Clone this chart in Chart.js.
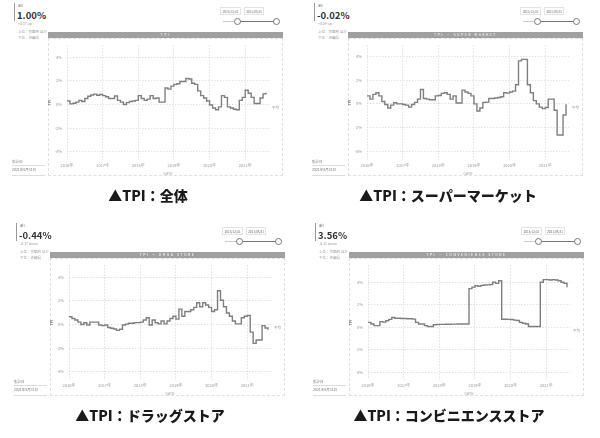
<!DOCTYPE html>
<html>
<head>
<meta charset="utf-8">
<script src="https://cdn.jsdelivr.net/npm/chart.js@4.4.1/dist/chart.umd.min.js"></script>
<style>
  body { margin: 0; width: 600px; height: 438px; background: #fff; position: relative; overflow: hidden;
         font-family: "Noto Sans CJK JP", "Noto Sans", sans-serif; }
  .panel { position: absolute; width: 300px; height: 215px; }
  .vbar { position: absolute; left: 14px; top: 3px; width: 1px; height: 18px; background: #9a9a9a; }
  .all { position: absolute; left: 18px; top: 2px; font-size: 4px; color: #666; }
  .big { position: absolute; left: 17px; top: 8px; font-size: 9.5px; font-weight: bold; color: #333; }
  .sub { position: absolute; left: 18px; top: 21px; font-size: 3.5px; color: #999; }
  .rank { position: absolute; left: 18px; top: 29px; font-size: 3.5px; color: #999; line-height: 5.5px; }
  .date { position: absolute; top: 7px; height: 8px; border: 0.5px solid #e4e4e4; font-size: 3px;
          color: #666; line-height: 8px; text-align: center; box-sizing: border-box; }
  .track { position: absolute; left: 223px; top: 21px; width: 14px; height: 1px; background: #ccc; }
  .range { position: absolute; left: 237px; top: 20.5px; width: 39px; height: 1.5px; background: #777; }
  .knob { position: absolute; top: 17.5px; width: 7px; height: 7px; border: 1px solid #777; border-radius: 50%;
          background: #fff; box-sizing: border-box; }
  .title { position: absolute; left: 48px; top: 32px; width: 235px; height: 6px; background: #a0a0a0; color: #fff;
           font-size: 3.5px; line-height: 6px; text-align: center; letter-spacing: 1.5px; }
  .frame { position: absolute; left: 48px; top: 38px; width: 235px; height: 138px; border: 1px dashed #e0e0e0;
           box-sizing: border-box; }
  canvas { position: absolute; left: 48px; top: 38px; }
  .foot { position: absolute; left: 12px; font-size: 3.5px; color: #777; }
  .rule { position: absolute; left: 12px; width: 33px; height: 1px; background: #ddd; }
  .caption { position: absolute; left: 0; width: 296px; top: 185px; text-align: center; font-size: 14px;
             font-weight: 900; color: #1a1a1a; }
</style>
</head>
<body>
<div id="root"></div>
<script>
// monthly TPI (%), 2016/01 .. 2021/08
const yearLabels = ['2016年', '2017年', '2018年', '2019年', '2020年', '2021年'];
const yTicks = [-4, -2, 0, 2, 4];

const tpiAll = [0.3, 0.05, 0.1, 0.2, 0.35, 0.25, 0.5, 0.7, 0.8, 0.88,
  0.78, 0.85, 0.75, 0.65, 0.5, 0.5, 0.72, 0.35, 0.2, 0.0,
  0.16, 0.25, 0.3, 0.35, 0.75, 0.5, 0.35, 0.45, 0.75, 0.5,
  0.55, 0.2, 0.2, 1.4, 1.3, 1.55, 1.7, 1.75, 1.95, 1.95,
  2.2, 2.15, 1.8, 1.7, 1.15, 0.75, 0.55, 0.3, -0.05, -0.3,
  -0.45, -0.2, 0.75, 0.6, -0.2, -0.3, -0.4, -0.45, 0.35, 0.6,
  1.2, 0.95, 0.6, 0.08, 0.08, 0.55, 0.9, 1.0];

const tpiSuper = [0.67, 0.4, 0.8, 0.93, 0.67, 0.2, -0.05, -0.35, -0.1, 0.1,
  0.0, 0.0, -0.05, -0.1, -0.27, -0.05, 0.13, 0.4, 1.2, 0.45,
  0.4, 0.35, 0.35, 0.67, 0.7, 0.88, 0.93, 0.8, 0.4, 0.67,
  0.08, 0.08, 1.15, 1.0, 0.88, 0.67, 0.0, -0.6, -0.35, 0.13,
  0.15, 0.45, 0.45, 0.5, 0.53, 0.6, 0.93, 0.9, 1.0, 1.07,
  1.6, 3.6, 3.73, 3.73, 1.6, 0.93, 0.27, 0.0, -0.27, -0.4,
  -0.3, 0.4, 0.4, -0.53, -2.6, -2.6, -0.93, -0.02];

const tpiDrug = [0.65, 0.5, 0.38, 0.2, 0.0, 0.15, -0.05, 0.2, 0.2, 0.2,
  -0.05, -0.1, -0.05, -0.25, -0.32, -0.38, -0.5, -0.4, -0.05, 0.03,
  0.1, 0.1, 0.16, 0.16, 0.2, 0.38, 0.57, -0.05, 0.38, 0.15,
  0.05, 0.3, 0.05, 0.3, 0.5, 0.7, 0.45, 1.3, 0.7, 1.1,
  1.1, 1.25, 1.45, 1.84, 1.5, 1.84, 1.65, 1.45, 1.1, 1.25,
  2.86, 2.05, 1.5, 0.97, 0.7, 0.3, 0.05, 0.05, 0.57, 0.7,
  0.76, -0.65, -1.6, -1.32, -1.32, -0.1, -0.3, -0.44];

const tpiConv = [0.43, 0.29, 0.14, 0.14, 0.5, 0.45, 0.57, 0.7, 0.86, 0.8,
  0.8, 0.77, 0.77, 0.75, 0.75, 0.72, 0.43, 0.29, 0.29, 0.14,
  0.06, 0.06, 0.22, 0.24, 0.25, 0.25, 0.26, 0.26, 0.27, 0.27,
  0.28, 0.28, 0.29, 0.29, 3.43, 3.57, 3.7, 3.65, 3.72, 3.75,
  3.77, 3.8, 4.0, 3.9, 4.14, 0.71, 0.71, 0.7, 0.68, 0.63,
  0.6, 0.43, 0.35, 0.29, 0.06, 0.06, 0.06, 0.06, 4.0, 4.23,
  4.23, 4.2, 4.23, 4.2, 4.14, 4.0, 3.9, 3.56];

const panels = [
  { left: 0, top: 0, title: 'TPI', value: '1.00%', change: '+0.37 up', caption: '▲TPI：全体', data: tpiAll, yMax: 5 },
  { left: 300, top: 0, title: 'TPI － SUPER MARKET', value: '-0.02%', change: '+0.09 up', caption: '▲TPI：スーパーマーケット', data: tpiSuper, yMax: 4.9 },
  { left: 2, top: 220, title: 'TPI － DRUG STORE', value: '-0.44%', change: '-0.37 down', caption: '▲TPI：ドラッグストア', data: tpiDrug, yMax: 5 },
  { left: 301, top: 220, title: 'TPI － CONVENIENCE STORE', value: '3.56%', change: '-0.11 down', caption: '▲TPI：コンビニエンスストア', data: tpiConv, yMax: 5.5 }
];

const tickFont = { family: 'Noto Sans CJK JP', size: 4 };

// small "平均" tag right of the plot
const avgTag = {
  id: 'avgTag',
  afterDraw(chart) {
    const { ctx, chartArea, scales } = chart;
    ctx.save();
    ctx.font = '3.5px "Noto Sans CJK JP"';
    ctx.fillStyle = '#999';
    ctx.textBaseline = 'middle';
    ctx.fillText('平均', chartArea.right + 3, scales.y.getPixelForValue(-0.3));
    ctx.restore();
  }
};

const root = document.getElementById('root');

panels.forEach((p, n) => {
  const el = document.createElement('div');
  el.className = 'panel';
  el.style.left = p.left + 'px';
  el.style.top = p.top + 'px';
  el.innerHTML = `
    <div class="vbar"></div>
    <div class="all">all</div>
    <div class="big">${p.value}</div>
    <div class="sub">${p.change}</div>
    <div class="rank">上位：京都府 ほか<br>下位：沖縄県</div>
    <div class="date" style="left:220px;width:21px">2015/12/31</div>
    <div class="date" style="left:244px;width:20px">2021/08/31</div>
    <div class="track"></div>
    <div class="range"></div>
    <div class="knob" style="left:233.5px"></div>
    <div class="knob" style="left:272.5px"></div>
    <div class="title">${p.title}</div>
    <div class="frame"></div>
    <canvas id="c${n}" width="235" height="138"></canvas>
    <div class="foot" style="top:159px">集計日</div>
    <div class="rule" style="top:165px"></div>
    <div class="foot" style="top:167px">2021年8月31日</div>
    <div class="rule" style="top:175px"></div>
    <div class="caption">${p.caption}</div>`;
  root.appendChild(el);

  new Chart(document.getElementById('c' + n), {
    type: 'line',
    data: {
      datasets: [{
        data: p.data.map((v, i) => ({ x: i, y: v })),
        stepped: true,
        borderColor: '#7f7f7f',
        borderWidth: 1.4,
        pointRadius: 0,
        fill: false
      }]
    },
    options: {
      responsive: false,
      animation: false,
      layout: { padding: { top: 5, right: 14, left: 0, bottom: 0 } },
      plugins: { legend: { display: false }, tooltip: { enabled: false } },
      scales: {
        x: {
          type: 'linear',
          min: 0,
          max: 68,
          afterBuildTicks: s => { s.ticks = yearLabels.map((_, k) => ({ value: k * 12 })); },
          afterFit: s => { s.height = 16; },
          ticks: { font: tickFont, color: '#999', padding: 3, maxRotation: 0,
                   callback: v => yearLabels[v / 12] },
          grid: { color: '#d9d9d9', lineWidth: 0.8, drawTicks: false },
          border: { display: false, dash: [1.5, 1.5] },
          title: { display: true, text: 'DATE', font: { size: 3.5 }, color: '#aaa', padding: 0 }
        },
        y: {
          min: -4.7,
          max: p.yMax,
          afterBuildTicks: s => { s.ticks = yTicks.map(v => ({ value: v })); },
          afterFit: s => { s.width = 19; },
          ticks: { font: tickFont, color: '#999', padding: 5, callback: v => v + '%' },
          grid: { color: '#d9d9d9', lineWidth: 0.8, drawTicks: false },
          border: { display: false, dash: [1.5, 1.5] },
          title: { display: true, text: 'TPI', font: { size: 3.5, weight: 'bold' }, color: '#777', padding: 0 }
        }
      }
    },
    plugins: [avgTag]
  });
});
</script>
</body>
</html>
